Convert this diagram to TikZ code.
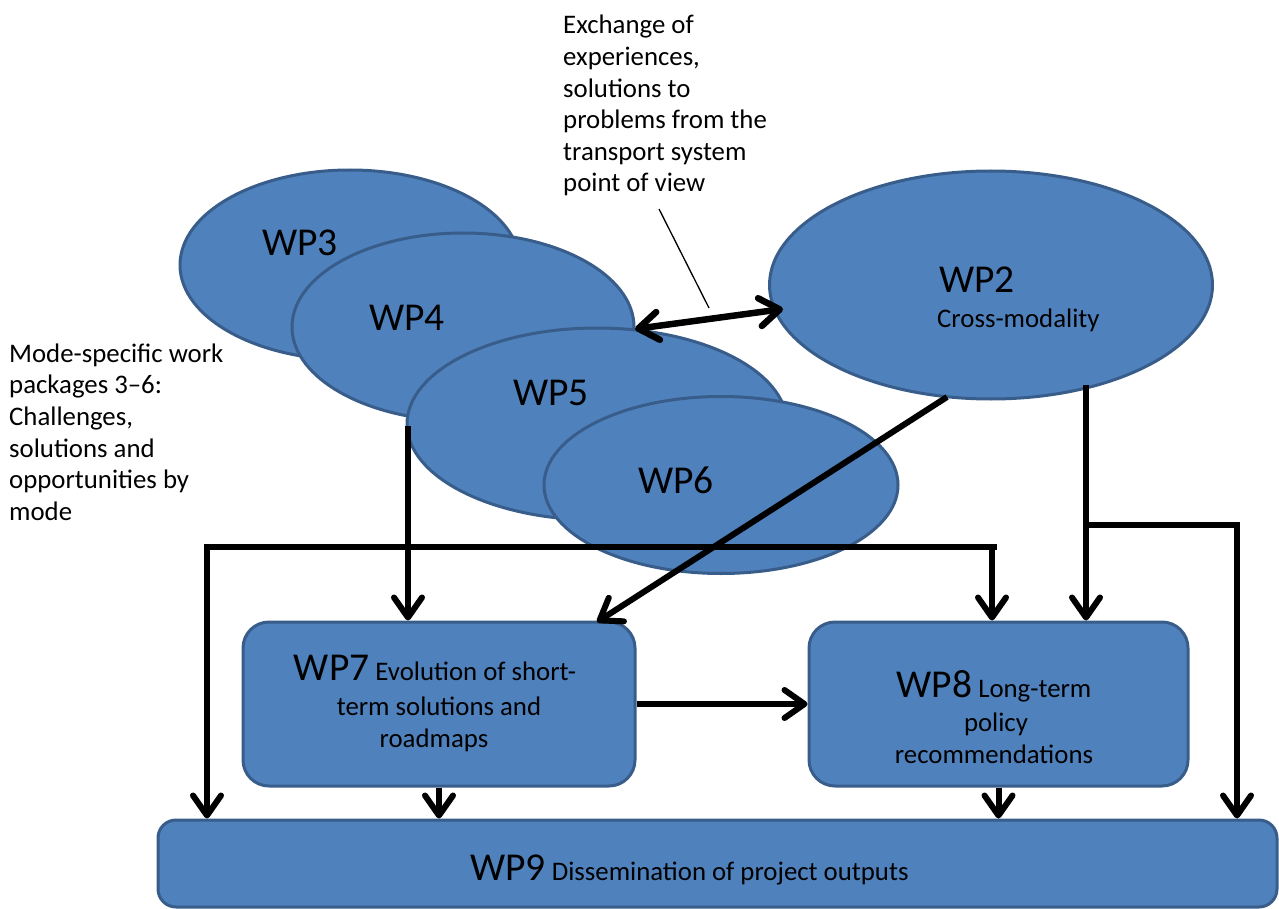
\documentclass[tikz,border=0pt]{standalone}
\usepackage{fontspec}
\setmainfont{Carlito}
\usetikzlibrary{arrows.meta,shapes.geometric}
\definecolor{wpfill}{HTML}{4F81BD}
\definecolor{wpdraw}{HTML}{385D8A}
\begin{document}
\begin{tikzpicture}[x=1pt,y=-1pt,
  wpell/.style={ellipse, draw=wpdraw, fill=wpfill, line width=3pt, inner sep=0pt},
  wpbox/.style={rectangle, rounded corners=26pt, draw=wpdraw, fill=wpfill, line width=3pt, inner sep=0pt},
  bigtxt/.style={font=\fontsize{39.5}{40}\selectfont, inner sep=0pt},
  smalltxt/.style={font=\fontsize{26.8}{32}\selectfont, inner sep=0pt},
  conn/.style={line width=6pt},
  arr/.style={conn, -{Straight Barb[length=20pt,width=28pt,round]}},
  dblarr/.style={line width=6.5pt, {Straight Barb[length=20pt,width=28pt,round]}-{Straight Barb[length=20pt,width=28pt,round]}},
]
\useasboundingbox (0,0) rectangle (1279,909);

% ellipses
\node[wpell, minimum width=340pt, minimum height=190pt] (wp3) at (350,265) {};
\node[wpell, minimum width=342pt, minimum height=188pt] (wp4) at (463,327) {};
\node[wpell, minimum width=380pt, minimum height=192pt] (wp5) at (597,424) {};
\node[wpell, minimum width=354pt, minimum height=177pt] (wp6) at (721,485) {};
\node[wpell, minimum width=443pt, minimum height=228pt] (wp2) at (991,285) {};

\node[bigtxt, anchor=base west] (t3) at (262,255) {WP3};
\node[bigtxt, anchor=base west] (t4) at (369,330) {WP4};
\node[bigtxt, anchor=base west] (t5) at (513,405) {WP5};
\node[bigtxt, anchor=base west] (t6) at (638,493) {WP6};
\node[bigtxt, anchor=base west] (t2) at (939,292) {WP2};
\node[smalltxt, anchor=base west] (t2b) at (937,327) {Cross-modality};

% boxes
\node[wpbox, minimum width=392pt, minimum height=164pt] (wp7) at (439,704) {};
\node[wpbox, minimum width=379pt, minimum height=164pt] (wp8) at (998.5,704) {};
\node[wpbox, rounded corners=18pt, minimum width=1119pt, minimum height=87pt] (wp9) at (717.5,863.5) {};

\node[smalltxt, anchor=base] (t7a) at (435,680) {{\fontsize{39.5}{40}\selectfont WP7} Evolution of short-};
\node[smalltxt, anchor=base] (t7b) at (439,715) {term solutions and};
\node[smalltxt, anchor=base] (t7c) at (434,747) {roadmaps};
\node[smalltxt, anchor=base] (t8a) at (994,697) {{\fontsize{39.5}{40}\selectfont WP8} Long-term};
\node[smalltxt, anchor=base] (t8b) at (996,731) {policy};
\node[smalltxt, anchor=base] (t8c) at (994,763) {recommendations};
\node[smalltxt, anchor=base west] (t9) at (470,880) {{\fontsize{39.5}{40}\selectfont WP9} Dissemination of project outputs};

% annotation texts
\node[smalltxt, anchor=base west] (a1) at (563,34) {Exchange of};
\node[smalltxt, anchor=base west] (a2) at (563,65.6) {experiences,};
\node[smalltxt, anchor=base west] (a3) at (563,97.2) {solutions to};
\node[smalltxt, anchor=base west] (a4) at (563,128.8) {problems from the};
\node[smalltxt, anchor=base west] (a5) at (563,160.4) {transport system};
\node[smalltxt, anchor=base west] (a6) at (563,192) {point of view};

\node[smalltxt, anchor=base west] (m1) at (9,362) {Mode-specific work};
\node[smalltxt, anchor=base west] (m2) at (9,393.7) {packages 3–6:};
\node[smalltxt, anchor=base west] (m3) at (9,425.4) {Challenges,};
\node[smalltxt, anchor=base west] (m4) at (9,457) {solutions and};
\node[smalltxt, anchor=base west] (m5) at (9,488.8) {opportunities by};
\node[smalltxt, anchor=base west] (m6) at (9,520.5) {mode};

% connector coordinates
\coordinate (src4) at (408,426);
\coordinate (src2d) at (947,397);
\coordinate (end7) at (597,622);
\coordinate (src2v) at (1086,385);
\coordinate (br2) at (1086,525);
\coordinate (br2r) at (1237,525);
\coordinate (busL) at (207,547);
\coordinate (busR) at (997,547);
\coordinate (bus8) at (992,547);
\coordinate (dl) at (635,329);
\coordinate (dr) at (783,309);
\coordinate (lead1) at (659,209);
\coordinate (lead2) at (709,308);

% connectors
\draw[arr] (src4) -- (src4 |- wp7.north);
\draw[arr] (src2d) -- (end7);
\draw[arr] (src2v) -- (src2v |- wp8.north);
\draw[arr] (br2) -- (br2r) -- (br2r |- wp9.north);
\draw[arr] (busR) -- (busL) -- (busL |- wp9.north);
\draw[arr] (bus8) -- (bus8 |- wp8.north);
\draw[arr] (wp7.south) -- (wp7.south |- wp9.north);
\draw[arr] (wp8.south) -- (wp8.south |- wp9.north);
\draw[arr] (wp7.east) -- (wp8.west);
\draw[dblarr] (dl) -- (dr);
\draw[line width=1.3pt] (lead1) -- (lead2);
\end{tikzpicture}
\end{document}
